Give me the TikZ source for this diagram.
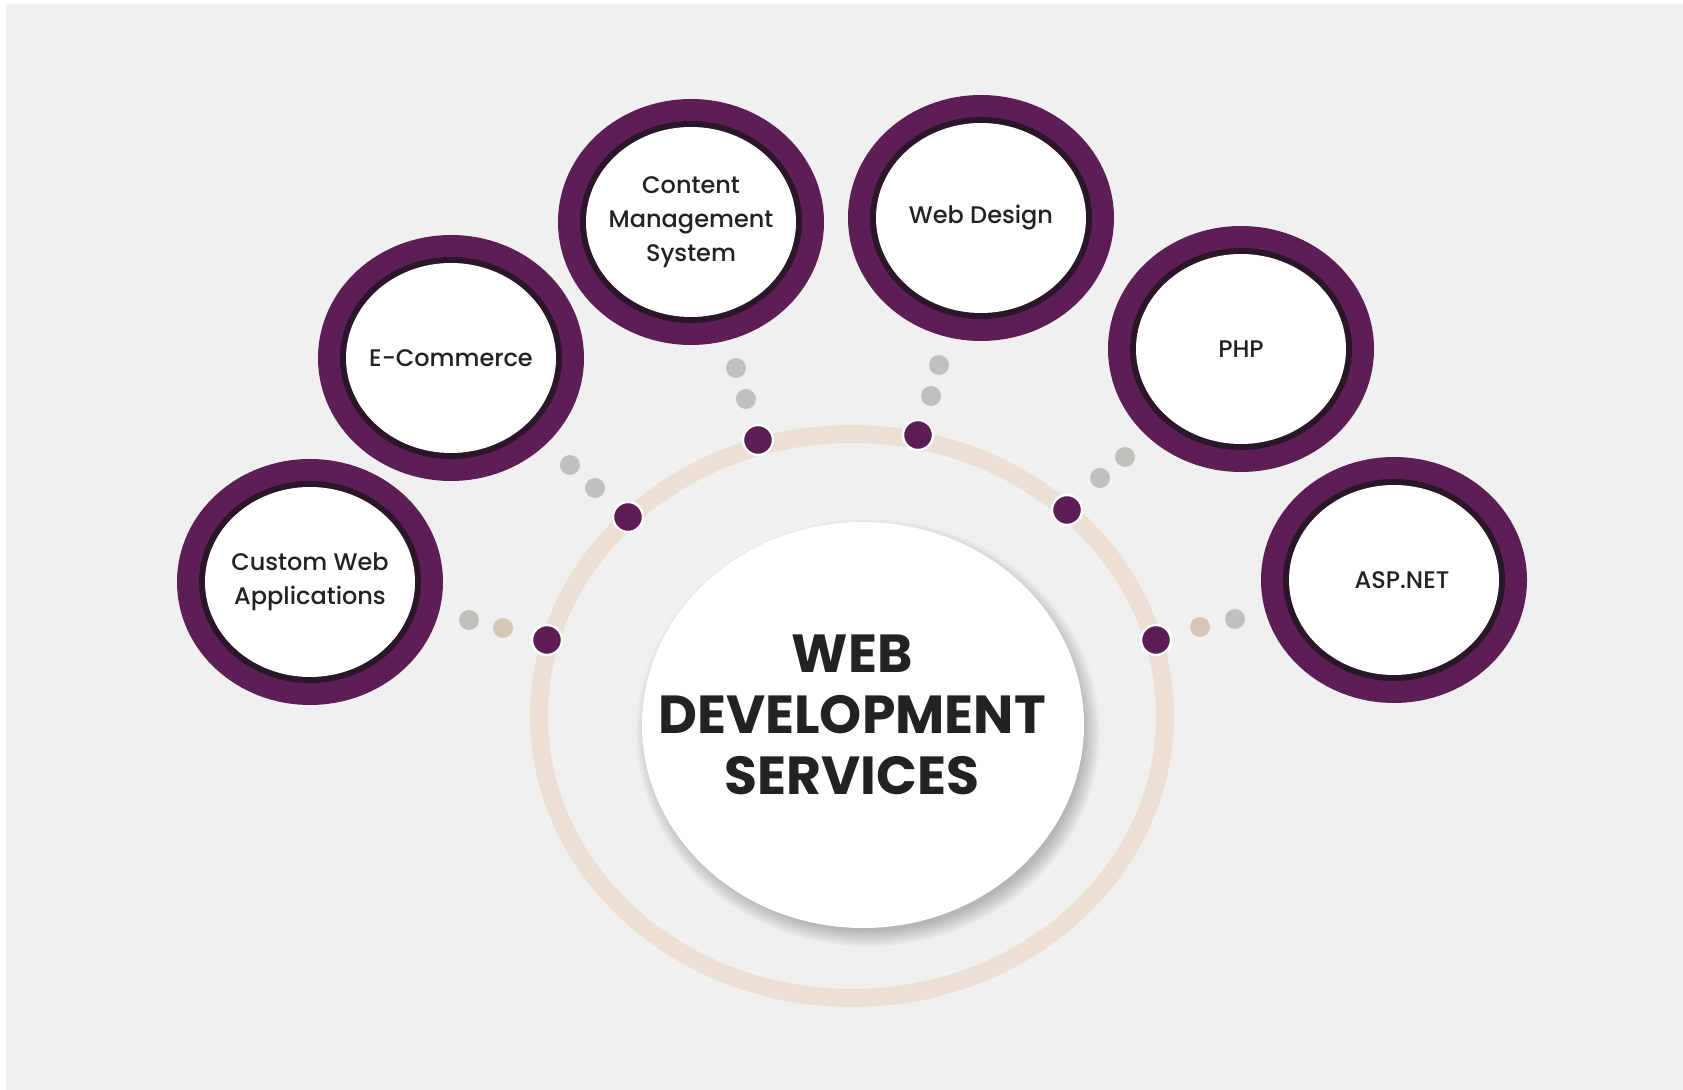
\documentclass[tikz,border=0pt]{standalone}
\usepackage{fontspec}
\setmainfont{Poppins}
\newfontfamily\lblfont{Poppins Medium}
\usetikzlibrary{shapes.geometric}
\definecolor{bgcol}{RGB}{241,240,240}
\definecolor{plum}{RGB}{92,30,84}
\definecolor{plumdark}{RGB}{42,22,40}
\definecolor{beige}{RGB}{236,224,212}
\definecolor{dotgray}{RGB}{194,192,188}
\definecolor{dottan}{RGB}{214,198,182}
\definecolor{txt}{RGB}{34,34,34}
\begin{document}
\begin{tikzpicture}[x=0.5pt,y=-0.5pt,
  svc/.style={ellipse, fill=white, minimum width=105pt, minimum height=95pt, inner sep=0pt,
     preaction={draw=plum, line width=28pt},
     preaction={draw=plumdark, line width=6pt}},
  lbl/.style={align=center, text=txt, inner sep=0pt, font=\lblfont\fontsize{12}{17}\selectfont},
  pdot/.style={circle, fill=plum, draw=white, line width=1.2pt, minimum size=15pt, inner sep=0pt},
  gdot/.style={circle, fill=dotgray, minimum size=10pt, inner sep=0pt},
  tdot/.style={circle, fill=dottan, minimum size=10pt, inner sep=0pt},
  ringstyle/.style={ellipse, draw=beige, line width=9pt, minimum width=313pt, minimum height=282pt, inner sep=0pt},
  corestyle/.style={ellipse, fill=white, minimum width=221pt, minimum height=203pt, inner sep=0pt},
  titlestyle/.style={align=center, text=txt, inner sep=0pt, font=\fontsize{26.8}{30.5}\selectfont\bfseries},
]
% background
\fill[white] (0,0) rectangle (1683,1090);
\fill[bgcol] (6,4) rectangle (1683,1090);

% beige ring
\node[ringstyle] (ring) at (852,716) {};

% soft shadow of the core circle
\foreach \i in {0,...,7}{
  \fill[black, opacity=0.03] (868,733) ellipse [x radius={108pt+\i*1.1pt}, y radius={99pt+\i*1.1pt}];
}
\node[corestyle] (core) at (863,725) {};
\node[titlestyle] (title) at (852,715) {WEB\\DEVELOPMENT\\SERVICES};

% dots
\node[gdot] (g1a) at (469,620) {}; \node[tdot] (g1b) at (503,628) {}; \node[pdot] (p1) at (547,640) {};
\node[gdot] (g2a) at (570,465) {}; \node[gdot] (g2b) at (595,488) {}; \node[pdot] (p2) at (628,517) {};
\node[gdot] (g3a) at (736,368) {}; \node[gdot] (g3b) at (746,399) {}; \node[pdot] (p3) at (758,440) {};
\node[gdot] (g4a) at (939,365) {}; \node[gdot] (g4b) at (931,396) {}; \node[pdot] (p4) at (918,435) {};
\node[gdot] (g5a) at (1125,457) {}; \node[gdot] (g5b) at (1100,478) {}; \node[pdot] (p5) at (1067,510) {};
\node[gdot] (g6a) at (1235,619) {}; \node[tdot] (g6b) at (1200,627) {}; \node[pdot] (p6) at (1156,640) {};

% service circles
\node[svc] (cwa) at (310,582) {};
\node[svc] (ecom) at (451,358) {};
\node[svc] (cms) at (691,222) {};
\node[svc] (wd) at (981,218) {};
\node[svc] (php) at (1241,349) {};
\node[svc] (asp) at (1394,580) {};

% labels
\node[lbl] (cwaT) at (cwa.center) {Custom Web\\Applications};
\node[lbl] (ecomT) at (ecom.center) {E-Commerce};
\node[lbl] (cmsT) at (cms.center) {Content\\Management\\System};
\node[lbl] (wdT) at (wd.center) {Web Design};
\node[lbl] (phpT) at (php.center) {PHP};
\node[lbl] (aspT) at ([xshift=4pt]asp.center) {ASP.NET};
\end{tikzpicture}
\end{document}
